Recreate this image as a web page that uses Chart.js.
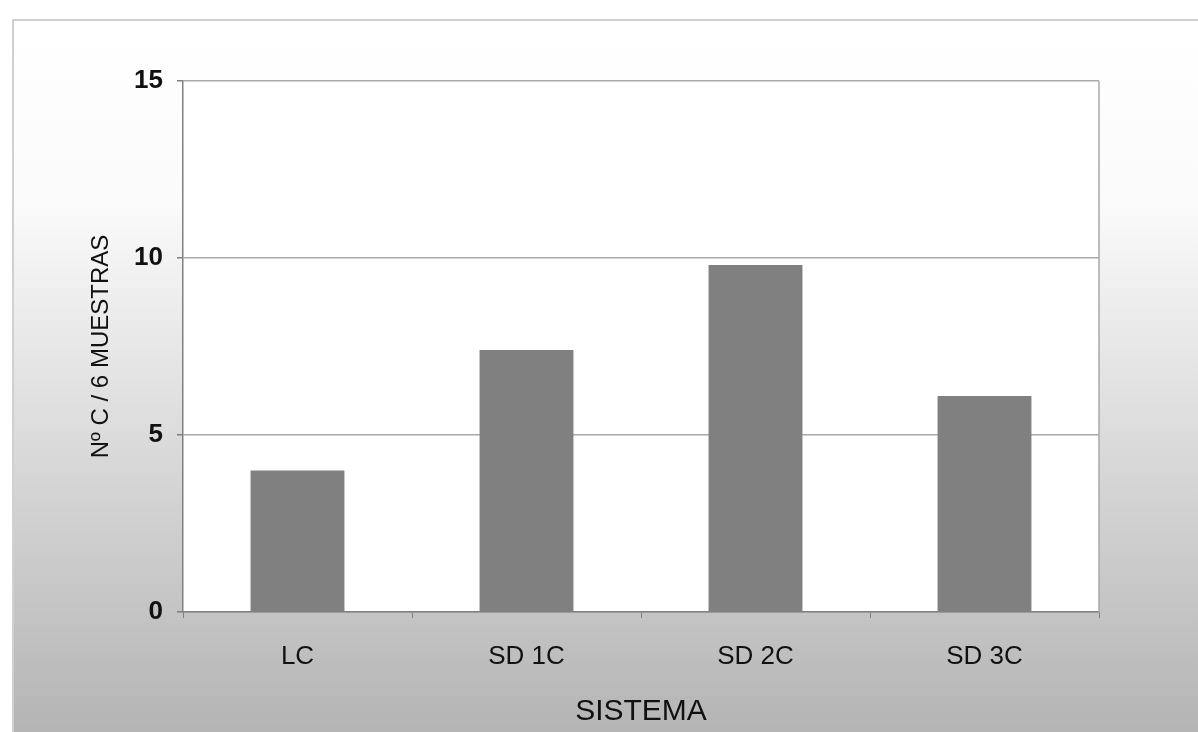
<!DOCTYPE html>
<html>
<head>
<meta charset="utf-8">
<script src="https://cdn.jsdelivr.net/npm/chart.js@4"></script>
<style>
  html, body { margin: 0; padding: 0; background: #fff; }
  #wrap { width: 1198px; height: 732px; }
</style>
</head>
<body>
<div id="wrap"><canvas id="chart" width="1198" height="732"></canvas></div>
<script>
const categories = ['LC', 'SD 1C', 'SD 2C', 'SD 3C'];
const values = [4.0, 7.4, 9.8, 6.1];
const yTicks = [0, 5, 10, 15];

const FONT = 'Arial, "Liberation Sans", sans-serif';

// gradient backdrop + white plot area, like the old spreadsheet chart
const backdrop = {
  id: 'backdrop',
  beforeDraw(chart) {
    const { ctx, chartArea: a } = chart;
    ctx.save();
    ctx.fillStyle = '#ffffff';
    ctx.fillRect(0, 0, chart.width, chart.height);
    const g = ctx.createLinearGradient(0, 20, 0, chart.height);
    g.addColorStop(0, '#ffffff');
    g.addColorStop(0.25, '#fbfbfb');
    g.addColorStop(1, '#b4b4b4');
    ctx.fillStyle = g;
    ctx.fillRect(12, 20, chart.width - 12, chart.height - 20);
    ctx.strokeStyle = '#d0d0d0';
    ctx.lineWidth = 2;
    ctx.beginPath();
    ctx.moveTo(13, chart.height);
    ctx.lineTo(13, 20);
    ctx.lineTo(chart.width, 20);
    ctx.stroke();
    ctx.fillStyle = '#ffffff';
    ctx.fillRect(a.left, a.top, a.right - a.left, a.bottom - a.top);
    ctx.restore();
  },
  afterDatasetsDraw(chart) {
    const { ctx, chartArea: a } = chart;
    ctx.save();
    ctx.strokeStyle = '#a8a8a8';
    ctx.lineWidth = 1.5;
    ctx.beginPath();
    ctx.moveTo(a.right, a.top);
    ctx.lineTo(a.right, a.bottom);
    ctx.stroke();
    ctx.restore();
  }
};

new Chart(document.getElementById('chart'), {
  type: 'bar',
  data: {
    labels: categories,
    datasets: [{
      data: values,
      backgroundColor: '#808080',
      borderWidth: 0,
      categoryPercentage: 1,
      barPercentage: 0.41
    }]
  },
  options: {
    responsive: false,
    animation: false,
    layout: { padding: { left: 0, top: 81, right: 99, bottom: 0 } },
    plugins: { legend: { display: false }, tooltip: { enabled: false } },
    scales: {
      x: {
        offset: true,
        afterFit: (s) => { s.height = 120; },
        grid: { offset: true, drawOnChartArea: false, color: '#808080', tickLength: 6, tickColor: '#808080' },
        border: { color: '#808080', width: 1.5 },
        ticks: { color: '#111', padding: 23, font: { family: FONT, size: 26 } },
        title: { display: true, text: 'SISTEMA', color: '#111', padding: { top: 0, bottom: 2 }, font: { family: FONT, size: 30 } }
      },
      y: {
        min: 0,
        max: 15,
        afterFit: (s) => { s.width = 183; },
        afterBuildTicks: (s) => { s.ticks = yTicks.map((v) => ({ value: v })); },
        grid: { color: '#a8a8a8', lineWidth: 1.5, tickLength: 6, tickColor: '#808080' },
        border: { color: '#808080', width: 1.5 },
        ticks: { color: '#111', padding: 14, font: { family: FONT, size: 26, weight: 'bold' } },
        title: { display: true, text: 'Nº C / 6 MUESTRAS', color: '#111', padding: { top: 87, bottom: 0 }, font: { family: FONT, size: 24 } }
      }
    }
  },
  plugins: [backdrop]
});
</script>
</body>
</html>
